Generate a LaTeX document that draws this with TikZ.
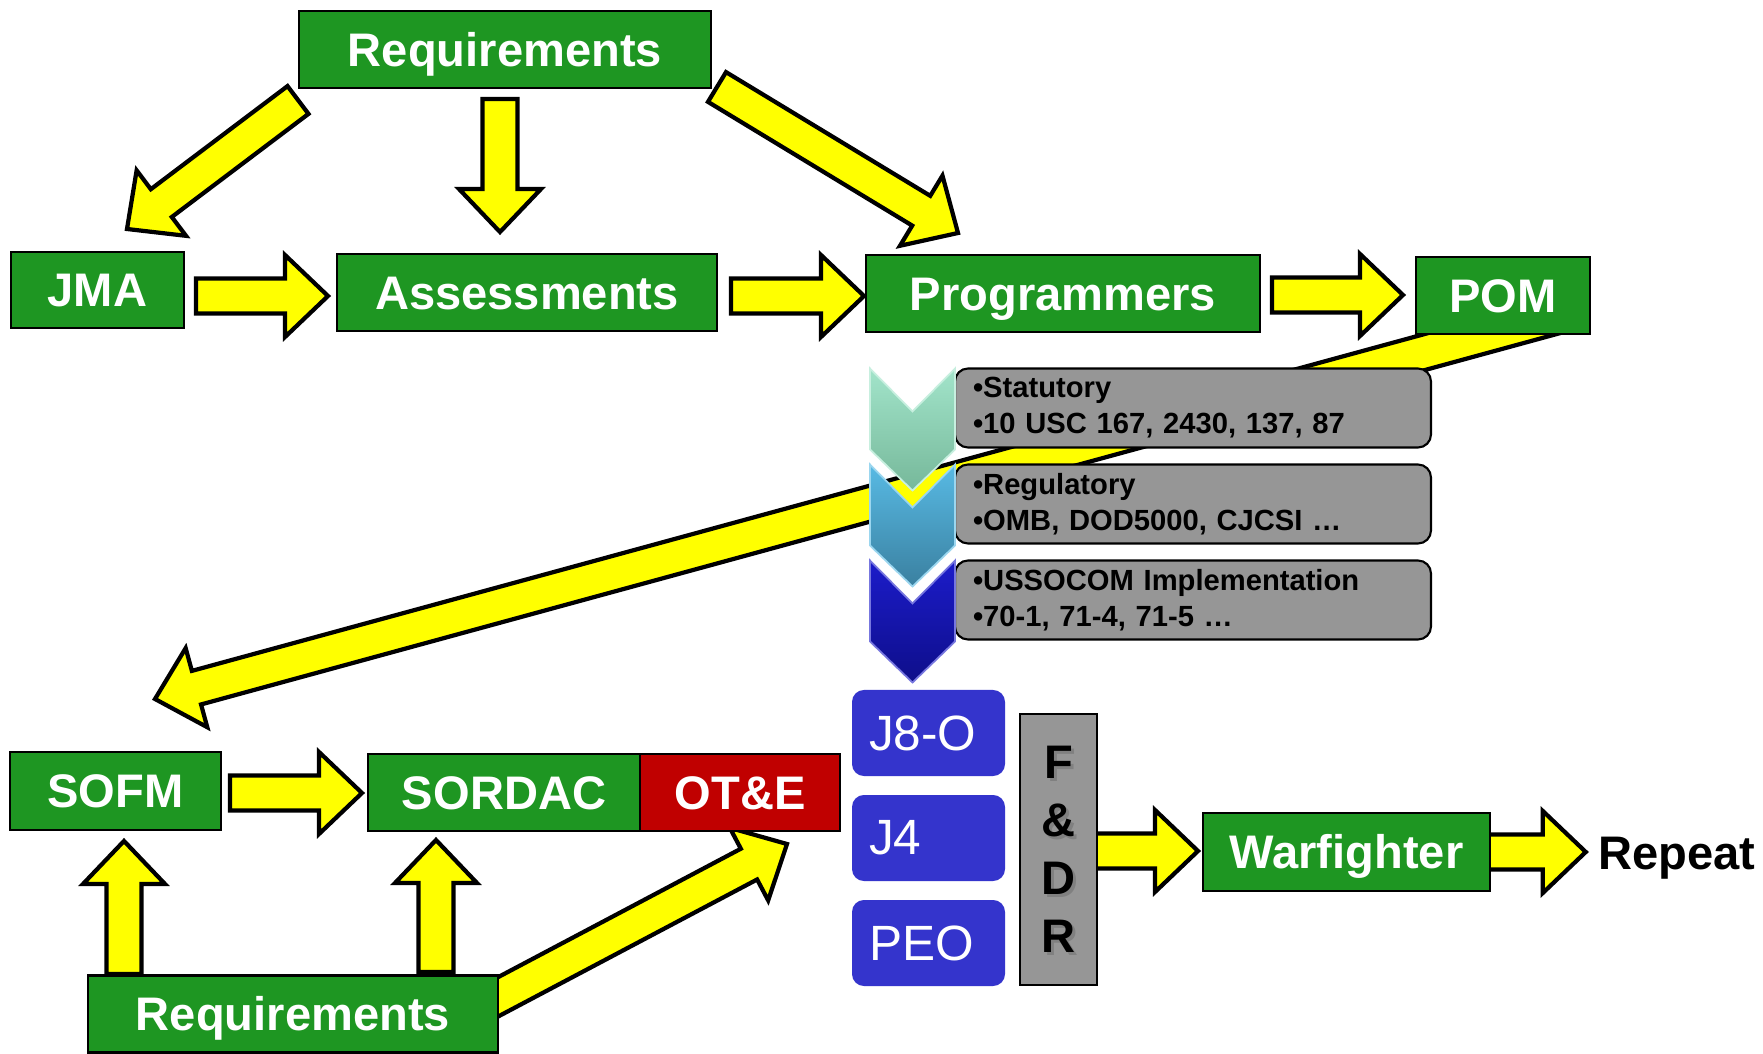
\documentclass[tikz,border=0pt]{standalone}
\usepackage{fontspec}
\setmainfont{Liberation Sans}
\usepackage{tikz}
\usetikzlibrary{positioning,calc}

\definecolor{boxgreen}{RGB}{30,150,34}
\definecolor{boxred}{RGB}{192,0,0}
\definecolor{boxblue}{RGB}{52,52,204}
\definecolor{panelgray}{RGB}{150,150,150}
\definecolor{arrowyellow}{RGB}{255,255,0}
\definecolor{mintA}{RGB}{162,228,202}
\definecolor{mintB}{RGB}{118,184,154}
\definecolor{skyA}{RGB}{88,186,228}
\definecolor{skyB}{RGB}{58,128,160}
\definecolor{navyA}{RGB}{28,28,202}
\definecolor{navyB}{RGB}{14,14,138}

\pgfdeclarelayer{background}
\pgfsetlayers{background,main}

% fat yellow arrow from tail #1 to tip #2
\newcommand{\shafthalf}{0.174cm}
\newcommand{\headhalf}{0.41cm}
\newcommand{\headlength}{0.43cm}
\newcommand{\fatarrow}[2]{%
  \coordinate (fa-t) at (#1);
  \coordinate (fa-p) at (#2);
  \coordinate (fa-h) at ($(fa-p)!\headlength!(fa-t)$);
  \draw[yarrow] ($(fa-t)!\shafthalf!90:(fa-p)$) -- ($(fa-h)!\shafthalf!90:(fa-p)$)
    -- ($(fa-h)!\headhalf!90:(fa-p)$) -- (fa-p) -- ($(fa-h)!\headhalf!-90:(fa-p)$)
    -- ($(fa-h)!\shafthalf!-90:(fa-p)$) -- ($(fa-t)!\shafthalf!-90:(fa-p)$) -- cycle;
}

\tikzset{
  greenbox/.style={draw=black, line width=0.6pt, fill=boxgreen, text=white, inner sep=0pt, outer sep=0pt,
    font=\bfseries\fontsize{13.4}{16}\selectfont, text height=9.6pt, text depth=0pt, minimum height=0.77cm},
  redbox/.style={greenbox, fill=boxred},
  bluebox/.style={fill=boxblue, rounded corners=3.4pt, text=white, font=\fontsize{14.1}{17}\selectfont,
    text width=1.19cm, inner xsep=0.17cm, align=left, minimum height=0.86cm, outer sep=0pt},
  infobox/.style={draw=black, line width=0.6pt, fill=panelgray, rounded corners=3.7pt, outer sep=0pt,
    font=\bfseries\fontsize{8.3}{10.2}\selectfont, text width=4.4cm, inner xsep=0.18cm, inner ysep=0.05cm,
    align=left, minimum height=0.79cm},
  fdrtext/.style={font=\bfseries\fontsize{13.4}{16.5}\selectfont, align=center, inner sep=0pt},
  yarrow/.style={draw=black, fill=arrowyellow, line width=1.2pt},
  chevron/.pic={\path[#1] (-0.85,0) -- (-0.425,-0.43) -- (0,0) -- (0,-0.81) -- (-0.425,-1.22) -- (-0.85,-0.81) -- cycle;}
}

\begin{document}
\begin{tikzpicture}
    \useasboundingbox (0,0) rectangle (17.63,10.53);

    % top row
    \node[greenbox, minimum width=4.12cm] (reqtop) at (5.05,10.035) {Requirements};
    \node[greenbox, minimum width=1.73cm, minimum height=0.76cm] (jma) at (0.975,7.63) {JMA};
    \node[greenbox, minimum width=3.80cm] (assess) at (5.27,7.605) {Assessments};
    \node[greenbox, minimum width=3.94cm] (prog) at (10.63,7.595) {Programmers};
    \node[greenbox, minimum width=1.74cm] (pom) at (15.03,7.575) {POM};

    % guidance panels
    \node[infobox] (stat) at (11.93,6.45) {•Statutory\\•10 USC 167, 2430, 137, 87};
    \node[infobox, below=0.17cm of stat] (reg) {•Regulatory\\•OMB, DOD5000, CJCSI …};
    \node[infobox, below=0.17cm of reg] (uss) {•USSOCOM Implementation\\•70-1, 71-4, 71-5 …};
    \pic at (stat.north west) {chevron={top color=mintA, bottom color=mintB, draw=mintA!60!white, line width=0.5pt}};
    \pic at (reg.north west) {chevron={top color=skyA, bottom color=skyB, draw=skyA!60!white, line width=0.5pt}};
    \pic at (uss.north west) {chevron={top color=navyA, bottom color=navyB, draw=navyA!60!white, line width=0.5pt}};

    % bottom row
    \node[greenbox, minimum width=2.11cm, minimum height=0.78cm] (sofm) at (1.155,2.62) {SOFM};
    \node[greenbox, minimum width=2.72cm] (sordac) at (5.04,2.605) {SORDAC};
    \node[redbox, minimum width=2.00cm, right=0pt of sordac] (ote) {OT\&E};
    \node[greenbox, minimum width=4.10cm] (reqbot) at (2.93,0.39) {Requirements};

    \node[bluebox] (j8o) at (9.285,3.2) {J8-O};
    \node[bluebox, below=0.19cm of j8o] (j4) {J4};
    \node[bluebox, below=0.19cm of j4] (peo) {PEO};

    \node[draw=black, line width=0.6pt, fill=panelgray, minimum width=0.77cm, minimum height=2.71cm, outer sep=0pt] (fdr) at (10.585,2.035) {};
    \node[fdrtext, text=black!50] at ($(fdr)+(0.03,-0.03)$) {F\\\&\\D\\R};
    \node[fdrtext] at (fdr) {F\\\&\\D\\R};

    \node[greenbox, minimum width=2.87cm, minimum height=0.78cm] (warf) at (13.465,2.01) {Warfighter};
    \node[font=\bfseries\fontsize{13.4}{16}\selectfont, text height=9.6pt, text depth=0pt, inner sep=0pt] (repeat) at (16.77,2.0) {Repeat};

    % yellow arrows behind the boxes
    \begin{pgfonlayer}{background}
    \fill[white] (0,0) rectangle (17.63,10.53);
    \fatarrow{$(reqtop.south west)+(-0.01,-0.12)$}{$(jma.north)+(0.295,0.23)$}
    \fatarrow{$(reqtop.south)+(-0.05,-0.11)$}{$(assess.north)+(-0.27,0.22)$}
    \fatarrow{$(reqtop.east)+(0.06,-0.375)$}{$(prog.north)+(-1.05,0.22)$}
    \fatarrow{$(jma.east)+(0.12,-0.06)$}{$(assess.west)+(-0.09,-0.035)$}
    \fatarrow{$(assess.east)+(0.14,-0.035)$}{$(prog.west)+(-0.02,-0.025)$}
    \fatarrow{$(prog.east)+(0.12,-0.015)$}{$(pom.west)+(-0.13,0.005)$}
    \fatarrow{$(pom.south)+(0.72,0.23)$}{$(sofm.north)+(0.395,0.53)$}
    \fatarrow{$(sofm.east)+(0.09,-0.02)$}{$(sordac.west)+(-0.06,-0.005)$}
    \fatarrow{$(reqbot.north west)+(0.36,0.015)$}{$(sofm.south)+(0.085,-0.11)$}
    \fatarrow{$(reqbot.north east)+(-0.62,0.035)$}{$(sordac.south)+(-0.68,-0.09)$}
    \fatarrow{$(reqbot.east)+(-0.38,-0.03)$}{$(ote.south)+(0.47,-0.13)$}
    \fatarrow{$(fdr.east)+(-0.07,-0.015)$}{$(warf.west)+(-0.05,0.01)$}
    \fatarrow{$(warf.east)+(-0.05,0)$}{$(repeat.west)+(-0.12,0.01)$}
    \end{pgfonlayer}
\end{tikzpicture}
\end{document}
